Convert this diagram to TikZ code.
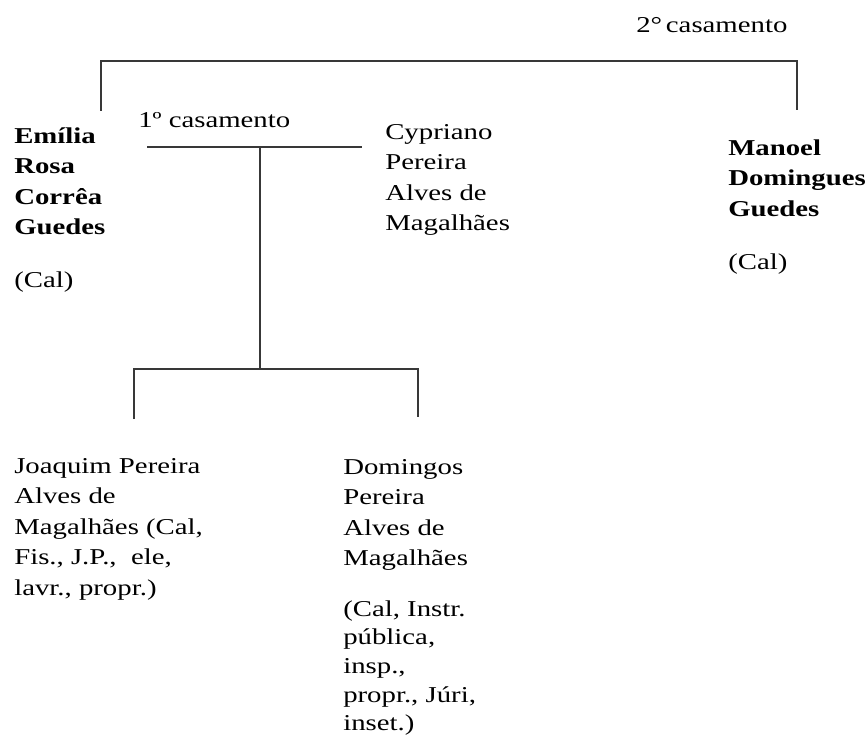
\documentclass[tikz,border=0pt]{standalone}
\usepackage{fontspec}
\setmainfont[FakeStretch=1.27]{Liberation Serif}
\newcommand\tstrut{\rule{0pt}{13pt}}
\begin{document}
\begin{tikzpicture}[x=0.75pt,y=-0.75pt,
  every node/.style={inner sep=0pt},
  txt/.style={font=\fontsize{17}{22.9}\selectfont, align=left, anchor=north west},
  one/.style={font=\fontsize{17}{22.9}\selectfont, anchor=base west},
  ln/.style={draw=black!78, line width=1.5pt}]
\useasboundingbox (0,0) rectangle (868,738);
% texts
\node[one] (cas2) at (636,33) {2°\,casamento};
\node[one] (cas1) at (138,128) {1º casamento};
\node[txt] (emilia) at (14,125.7) {\bfseries\tstrut Emília\\\bfseries Rosa\\\bfseries Corrêa\\\bfseries Guedes};
\node[one] (emcal) at (14,287) {(Cal)};
\node[txt] (cyp) at (385,121.7) {\tstrut Cypriano\\Pereira\\Alves de\\Magalhães};
\node[txt] (manoel) at (728,137.7) {\bfseries\tstrut Manoel\\\bfseries Domingues\\\bfseries Guedes};
\node[one] (mancal) at (728,269) {(Cal)};
\node[txt] (joaquim) at (14,455.7) {\tstrut Joaquim Pereira\\Alves de\\Magalhães (Cal,\\Fis., J.P.,\ \ ele,\\lavr., propr.)};
\node[txt] (domingos) at (343,456.7) {\tstrut Domingos\\Pereira\\Alves de\\Magalhães};
\node[txt, font=\fontsize{17}{21.5}\selectfont] (domcal) at (343,598.7) {\tstrut (Cal, Instr.\\pública,\\insp.,\\propr., Júri,\\inset.)};
% connector points
\coordinate (tL) at (101,111);
\coordinate (tLc) at (101,61);
\coordinate (tRc) at (797,61);
\coordinate (tR) at (797,110);
\coordinate (mL) at (147,147);
\coordinate (mR) at (362,147);
\coordinate (mC) at (260,147);
\coordinate (kC) at (260,369);
\coordinate (kL) at (134,369);
\coordinate (kR) at (418,369);
\coordinate (kLd) at (134,419);
\coordinate (kRd) at (418,417);
% lines
\draw[ln] (tL) -- (tLc) -- (tRc) -- (tR);
\draw[ln] (mL) -- (mR);
\draw[ln] (mC) -- (kC);
\draw[ln] (kLd) -- (kL) -- (kR) -- (kRd);
\end{tikzpicture}
\end{document}
